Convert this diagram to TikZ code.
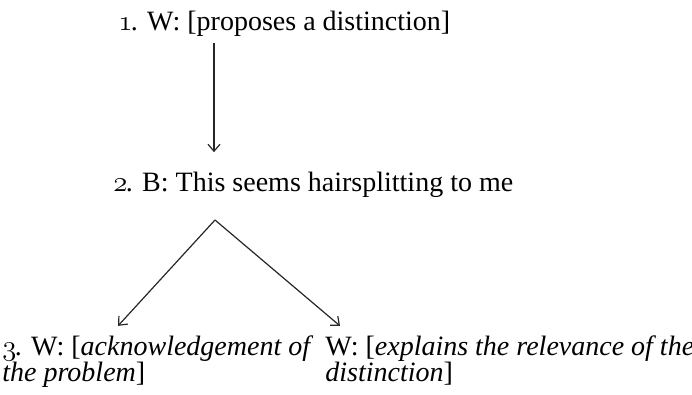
\documentclass[tikz,border=0pt]{standalone}
\usepackage{fontspec}
\setmainfont{Liberation Serif}
\usetikzlibrary{arrows.meta}
\newcommand{\osn}[1]{{\usefont{OML}{cmm}{m}{it}#1}\kern-0.8pt}
\begin{document}
\begin{tikzpicture}[x=0.5pt,y=-0.5pt,
  lbl/.style={inner sep=0pt,anchor=base west,align=left,font=\fontsize{14}{13}\selectfont},
  arr/.style={-{Straight Barb[length=3.5pt,width=6pt]},line width=0.6pt,draw=black!85}]
\useasboundingbox (0,0) rectangle (692,395);
\node[lbl] (n1) at (118,31) {\osn{1}. W: [proposes a distinction]};
\node[lbl] (n2) at (113,192) {\osn{2}. B: This seems hairsplitting to me};
\node[lbl] (n3) at (2,382) {\osn{3}. W: [\textit{acknowledgement of}\\\textit{the problem}]};
\node[lbl] (n4) at (325,382) {W: [\textit{explains the relevance of the}\\\textit{distinction}]};
\coordinate (v) at (214,0);
\coordinate (split) at (215,220);
\coordinate (tl) at (118,0);
\coordinate (tr) at (340,0);
\draw[arr] ([yshift=-3pt]n1.south -| v) -- ([yshift=10pt]n2.north -| v);
\draw[arr] (split) -- ([yshift=5pt]n3.north -| tl);
\draw[arr] (split) -- ([yshift=5pt]n4.north -| tr);
\end{tikzpicture}
\end{document}
